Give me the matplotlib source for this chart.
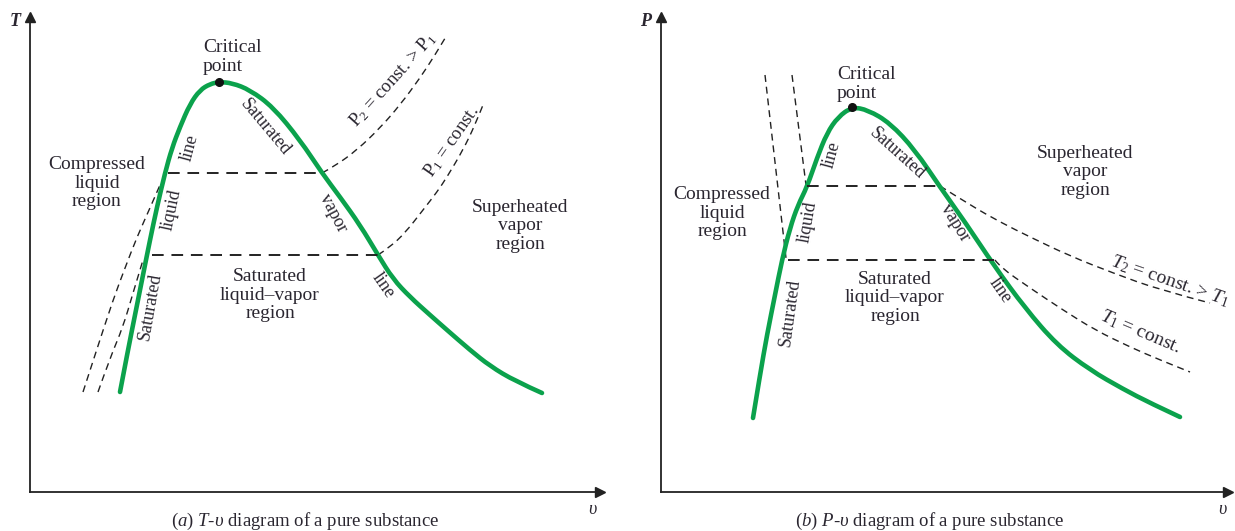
import matplotlib
matplotlib.use("Agg")
import matplotlib.pyplot as plt
from matplotlib.path import Path
from matplotlib.patches import PathPatch

plt.rcParams['font.family'] = ['Liberation Serif', 'DejaVu Serif']
plt.rcParams['mathtext.fontset'] = 'custom'
plt.rcParams['mathtext.rm'] = 'Liberation Serif'
plt.rcParams['mathtext.it'] = 'Liberation Serif:italic'
plt.rcParams['mathtext.bf'] = 'Liberation Serif:bold'

# ---------------- data: (a) T-v diagram ----------------
tv_sat_v = [90, 98, 106, 113, 120, 127, 135, 142, 150, 160, 170, 180, 189, 202, 220, 243, 270, 292,
            310, 330, 348, 363, 380, 400, 417, 440, 460, 485, 512]
tv_sat_T = [100, 142, 182, 217, 252, 285, 319, 344, 365, 388, 402, 408, 410, 409, 402, 385, 352, 319,
            295, 267, 237, 213, 195, 177, 162, 142, 126, 111, 99]
tv_crit = (189, 410)
tv_p2_v = [138, 292, 305, 327, 350, 370, 390, 405, 417]
tv_p2_T = [319, 319, 326, 342, 364, 387, 414, 437, 457]
tv_p1_v = [122, 348, 360, 375, 393, 407, 417, 433, 445, 453]
tv_p1_T = [237, 237, 245, 259, 282, 300, 315, 342, 367, 387]
tv_cl2_v = [53, 65, 83, 95, 107, 120, 130]
tv_cl2_T = [100, 137, 192, 224, 255, 284, 307]
tv_cl1_v = [68, 80, 93, 103, 113]
tv_cl1_T = [100, 134, 165, 199, 232]

# ---------------- data: (b) P-v diagram ----------------
pv_sat_v = [92, 99, 106, 114, 121, 129, 137, 146, 156, 166, 177, 191, 207, 229, 254, 279, 304, 334,
            364, 396, 429, 462, 489, 519]
pv_sat_P = [74, 117, 157, 197, 232, 264, 287, 305, 334, 359, 375, 385, 382, 369, 342, 305, 270, 225,
            184, 147, 122, 103, 89, 75]
pv_crit = (191, 385)
pv_t2_v = [146, 279, 309, 339, 369, 409, 452, 499, 549]
pv_t2_P = [306, 306, 287, 270, 255, 236, 219, 202, 189]
pv_t1_v = [127, 334, 339, 369, 402, 434, 469, 499, 529]
pv_t1_P = [232, 232, 225, 204, 182, 162, 145, 132, 120]
pv_cl2_v = [104, 125]
pv_cl2_P = [417, 234]
pv_cl1_v = [131, 145]
pv_cl1_P = [417, 307]

GREEN = '#0ba24c'
TXT = '#2a2630'
W, H = 1235, 531
fig = plt.figure(figsize=(W / 100, H / 100), dpi=100)


def make_ax(left_px, right_px):
    ax = fig.add_axes([left_px / W, (H - 492) / H, (right_px - left_px) / W, (492 - 17) / H])
    ax.set_xlim(0, right_px - left_px)
    ax.set_ylim(0, 475)
    for s in ('top', 'right'):
        ax.spines[s].set_visible(False)
    for s in ('left', 'bottom'):
        ax.spines[s].set_linewidth(1.3)
        ax.spines[s].set_color('#222222')
    ax.set_xticks([])
    ax.set_yticks([])
    ax.patch.set_alpha(0)
    ax.plot(1, 0, '>', color='#222222', ms=7, transform=ax.transAxes, clip_on=False)
    ax.plot(0, 1, '^', color='#222222', ms=7, transform=ax.transAxes, clip_on=False)
    return ax


def smooth(ax, xs, ys, **kw):
    """Draw a smooth curve through the listed points (quadratic Bezier via midpoints)."""
    pts = list(zip(xs, ys))
    if len(pts) < 3:
        verts, codes = pts, [Path.MOVETO, Path.LINETO]
    else:
        verts = [pts[0]]
        codes = [Path.MOVETO]
        for i in range(1, len(pts) - 1):
            mid = ((pts[i][0] + pts[i + 1][0]) / 2, (pts[i][1] + pts[i + 1][1]) / 2)
            if i == len(pts) - 2:
                mid = pts[-1]
            verts += [pts[i], mid]
            codes += [Path.CURVE3, Path.CURVE3]
    patch = PathPatch(Path(verts, codes), fill=False, clip_on=False, **kw)
    ax.add_patch(patch)


dash_thin = dict(edgecolor='#222222', lw=1.0, ls=(0, (5, 3.5)))
dash_h = dict(color='#222222', lw=1.4, ls=(0, (6, 4)), clip_on=False)
green = dict(edgecolor=GREEN, lw=3.3, capstyle='round', joinstyle='round')
fs = 14


def txt(ax, x, y, s, rot=0, size=fs, **kw):
    kw.setdefault('ha', 'center')
    kw.setdefault('va', 'center')
    ax.text(x, y, s, rotation=rot, rotation_mode='anchor', fontsize=size, color=TXT,
            linespacing=1.15, clip_on=False, **kw)


# ---------- (a) ----------
ax = make_ax(30, 600)
smooth(ax, tv_cl2_v, tv_cl2_T, **dash_thin)
smooth(ax, tv_cl1_v, tv_cl1_T, **dash_thin)
ax.plot(tv_p2_v[:2], tv_p2_T[:2], **dash_h)
smooth(ax, tv_p2_v[1:], tv_p2_T[1:], **dash_thin)
ax.plot(tv_p1_v[:2], tv_p1_T[:2], **dash_h)
smooth(ax, tv_p1_v[1:], tv_p1_T[1:], **dash_thin)
smooth(ax, tv_sat_v, tv_sat_T, **green)
ax.plot(*tv_crit, 'o', color='#111111', ms=5.5)
txt(ax, 173, 435, 'Critical\npoint', ha='left')
txt(ax, 67, 309, 'Compressed\nliquid\nregion')
txt(ax, 240, 197, 'Saturated\nliquid–vapor\nregion')
txt(ax, 490, 266, 'Superheated\nvapor\nregion')
txt(ax, 160, 344, 'line', 75, 13)
txt(ax, 142, 282, 'liquid', 78, 13)
txt(ax, 120, 185, 'Saturated', 80, 13)
txt(ax, 235, 365, 'Saturated', -50, 13)
txt(ax, 303, 279, 'vapor', -62, 13)
txt(ax, 353, 207, 'line', -55, 13)
txt(ax, 363, 412, r'$\mathrm{P}_2$ = const. > $\mathrm{P}_1$', 48, 13.5)
txt(ax, 422, 350, r'$\mathrm{P}_1$ = const.', 55, 13.5)
txt(ax, -15, 470, 'T', 0, 13, style='italic', weight='bold')
txt(ax, 563, -18, r'$υ$', 0, 13)
txt(ax, 275, -29, r'($a$) $T$-$υ$ diagram of a pure substance', 0, 13.5)

# ---------- (b) ----------
ax = make_ax(661, 1228)
smooth(ax, pv_cl2_v, pv_cl2_P, **dash_thin)
smooth(ax, pv_cl1_v, pv_cl1_P, **dash_thin)
ax.plot(pv_t2_v[:2], pv_t2_P[:2], **dash_h)
smooth(ax, pv_t2_v[1:], pv_t2_P[1:], **dash_thin)
ax.plot(pv_t1_v[:2], pv_t1_P[:2], **dash_h)
smooth(ax, pv_t1_v[1:], pv_t1_P[1:], **dash_thin)
smooth(ax, pv_sat_v, pv_sat_P, **green)
ax.plot(*pv_crit, 'o', color='#111111', ms=5.5)
txt(ax, 176, 408, 'Critical\npoint', ha='left')
txt(ax, 61, 279, 'Compressed\nliquid\nregion')
txt(ax, 234, 194, 'Saturated\nliquid–vapor\nregion')
txt(ax, 424, 320, 'Superheated\nvapor\nregion')
txt(ax, 171, 337, 'line', 75, 13)
txt(ax, 147, 270, 'liquid', 80, 13)
txt(ax, 129, 179, 'Saturated', 82, 13)
txt(ax, 236, 339, 'Saturated', -42, 13)
txt(ax, 294, 269, 'vapor', -58, 13)
txt(ax, 339, 202, 'line', -55, 13)
txt(ax, 509, 211, r'$T_2$ = const. > $T_1$', -19, 14)
txt(ax, 479, 160, r'$T_1$ = const.', -23, 14)
txt(ax, -15, 470, 'P', 0, 13, style='italic', weight='bold')
txt(ax, 562, -18, r'$υ$', 0, 13)
txt(ax, 269, -29, r'($b$) $P$-$υ$ diagram of a pure substance', 0, 13.5)

fig.savefig('out.png', dpi=100, facecolor='white')
